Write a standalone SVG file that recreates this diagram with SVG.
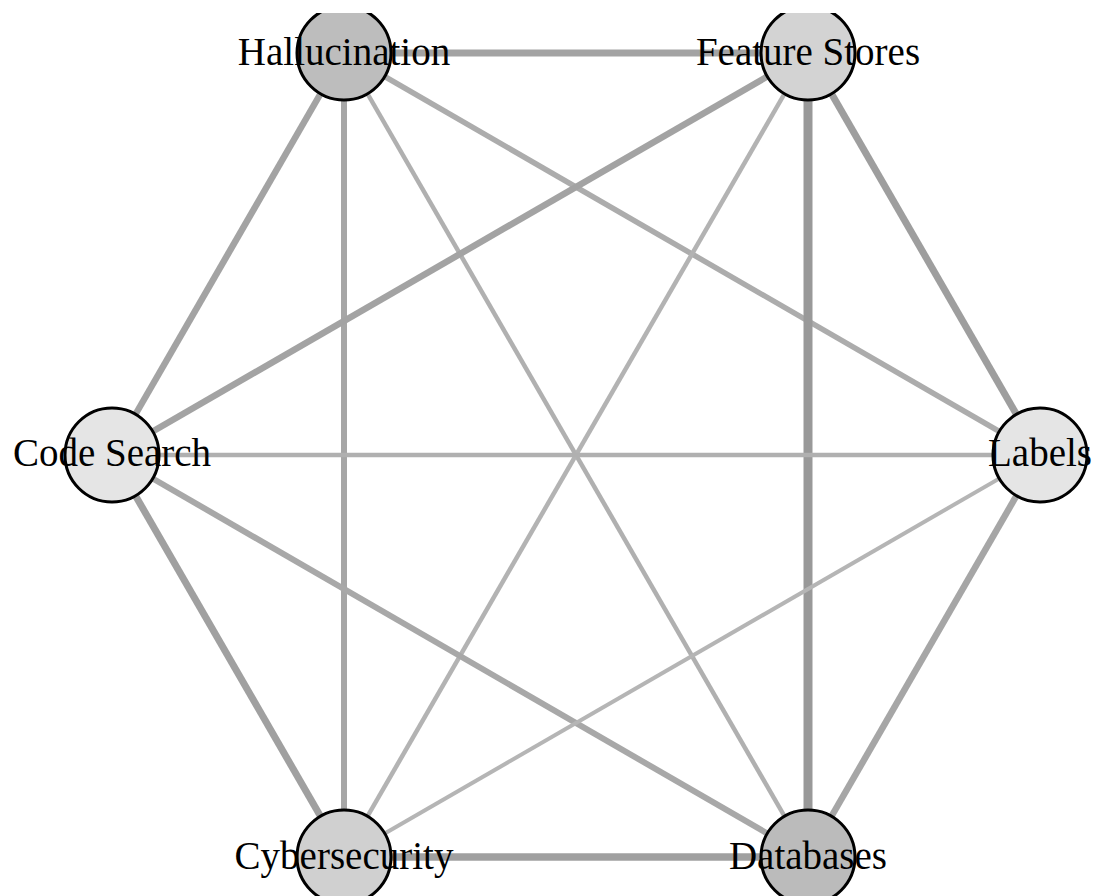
<svg xmlns="http://www.w3.org/2000/svg" width="1094" height="896" viewBox="0 0 1094 896">
<defs>
<style>
.e{stroke-linecap:butt;fill:none}
.n{stroke:#000;stroke-width:3}
.t{font-family:"Liberation Serif","Times New Roman",serif;font-size:39px;fill:#000;text-anchor:middle}
</style>
<clipPath id="clip"><rect x="0" y="13" width="1094" height="883"/></clipPath>
</defs>
<rect width="1094" height="896" fill="#fff"/>
<g id="connectors">
<line class="e" x1="344" y1="53" x2="808" y2="53" stroke="#a3a3a3" stroke-width="7"/>
<line class="e" x1="344" y1="53" x2="112" y2="455" stroke="#a3a3a3" stroke-width="6.5"/>
<line class="e" x1="344" y1="53" x2="344" y2="857" stroke="#a6a6a6" stroke-width="6"/>
<line class="e" x1="344" y1="53" x2="808" y2="857" stroke="#b0b0b0" stroke-width="4.5"/>
<line class="e" x1="344" y1="53" x2="1040" y2="455" stroke="#acacac" stroke-width="5.5"/>
<line class="e" x1="808" y1="53" x2="1040" y2="455" stroke="#9e9e9e" stroke-width="7"/>
<line class="e" x1="808" y1="53" x2="808" y2="857" stroke="#999999" stroke-width="9"/>
<line class="e" x1="808" y1="53" x2="112" y2="455" stroke="#a3a3a3" stroke-width="6.5"/>
<line class="e" x1="808" y1="53" x2="344" y2="857" stroke="#b3b3b3" stroke-width="4.5"/>
<line class="e" x1="112" y1="455" x2="1040" y2="455" stroke="#b0b0b0" stroke-width="4.5"/>
<line class="e" x1="112" y1="455" x2="344" y2="857" stroke="#a0a0a0" stroke-width="7"/>
<line class="e" x1="112" y1="455" x2="808" y2="857" stroke="#a8a8a8" stroke-width="6"/>
<line class="e" x1="344" y1="857" x2="808" y2="857" stroke="#a0a0a0" stroke-width="7.5"/>
<line class="e" x1="344" y1="857" x2="1040" y2="455" stroke="#b5b5b5" stroke-width="4"/>
<line class="e" x1="1040" y1="455" x2="808" y2="857" stroke="#a6a6a6" stroke-width="6.5"/>
</g>
<g clip-path="url(#clip)">
<g id="node-hallucination"><circle class="n" cx="344" cy="53" r="47" fill="#bdbdbd"/><text class="t" x="344" y="65">Hallucination</text></g>
<g id="node-feature-stores"><circle class="n" cx="808" cy="53" r="47" fill="#d3d3d3"/><text class="t" x="808" y="65">Feature Stores</text></g>
<g id="node-code-search"><circle class="n" cx="112" cy="455" r="47" fill="#e5e5e5"/><text class="t" x="112" y="466">Code Search</text></g>
<g id="node-labels"><circle class="n" cx="1040" cy="455" r="47" fill="#e5e5e5"/><text class="t" x="1040" y="466">Labels</text></g>
<g id="node-cybersecurity"><circle class="n" cx="344" cy="857" r="47" fill="#d0d0d0"/><text class="t" x="344" y="869">Cybersecurity</text></g>
<g id="node-databases"><circle class="n" cx="808" cy="857" r="47" fill="#bbbbbb"/><text class="t" x="808" y="869">Databases</text></g>
</g>
</svg>
